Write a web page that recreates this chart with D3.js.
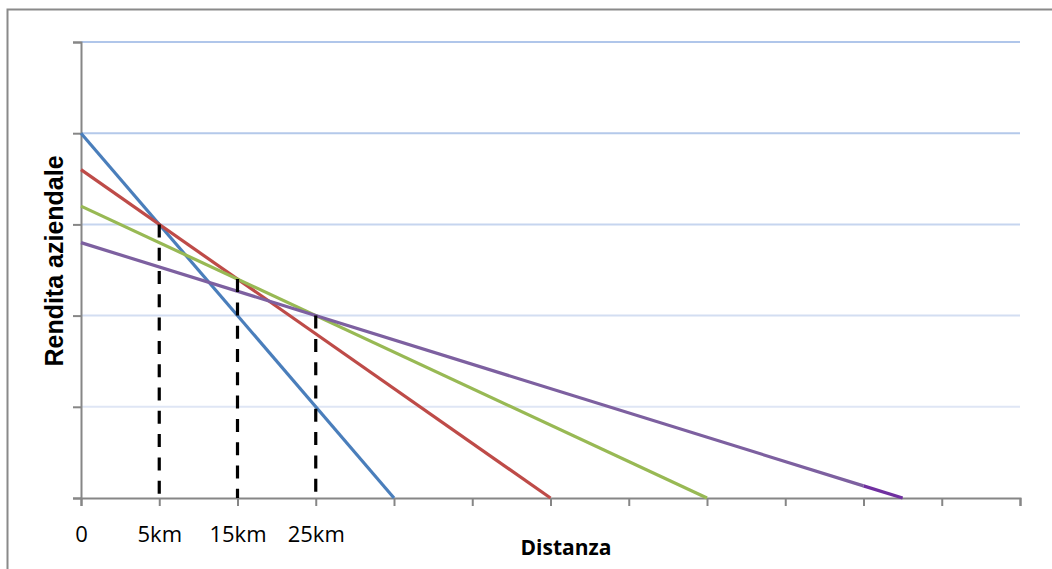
<!DOCTYPE html>
<html>
<head>
<meta charset="utf-8">
<script src="https://cdn.jsdelivr.net/npm/d3@7"></script>
<style>
  html, body { margin: 0; padding: 0; background: #fff; }
  svg { display: block; }
</style>
</head>
<body>
<svg id="chart" width="1052" height="569"></svg>
<script>
// ---- data ----
const xTickValues = [0, 1, 2, 3, 4, 5, 6, 7, 8, 9, 10, 11, 12];
const xTickLabels = ["0", "5km", "15km", "25km"];
const yTickValues = [0, 1, 2, 3, 4, 5];

const blueX = [0, 4];
const blueY = [4, 0];
const redX = [0, 6];
const redY = [3.6, 0];
const greenX = [0, 8];
const greenY = [3.2, 0];
const purpleX = [0, 10, 10.5];
const purpleY = [2.8, 0.133, 0];

const dropX = [1, 2, 3];
const dropY = [3, 2.4, 2.0];

const xTitle = "Distanza";
const yTitle = "Rendita aziendale";

// ---- drawing ----
const svg = d3.select("#chart");
const x = d3.scaleLinear().domain([0, 12]).range([81, 1020]);
const y = d3.scaleLinear().domain([0, 5]).range([498, 42]);

// outer frame
svg.append("rect")
  .attr("x", 7.5).attr("y", 9.5)
  .attr("width", 1100).attr("height", 600)
  .attr("fill", "#fff").attr("stroke", "#8a8a8a").attr("stroke-width", 2);

// gridlines
const gridColors = ["none", "#dfe6f5", "#d3def2", "#c6d5ef", "#b4c9ea", "#b0c6ea"];
svg.append("g").selectAll("line")
  .data(yTickValues.filter(v => v > 0))
  .join("line")
  .attr("x1", x(0)).attr("x2", x(12))
  .attr("y1", d => y(d)).attr("y2", d => y(d))
  .attr("stroke", d => gridColors[d])
  .attr("stroke-width", 2);

// y axis
const yAxis = d3.axisLeft(y).tickValues(yTickValues).tickSize(8).tickFormat("");
const gy = svg.append("g").attr("transform", `translate(${x(0)},0)`).call(yAxis);
gy.select(".domain").attr("stroke", "#868686").attr("stroke-width", 2);
gy.selectAll(".tick line").attr("stroke", "#868686").attr("stroke-width", 2);

// x axis
const xAxis = d3.axisBottom(x).tickValues(xTickValues).tickSize(8)
  .tickFormat((d, i) => xTickLabels[i] || "");
const gx = svg.append("g").attr("transform", `translate(0,${y(0)})`).call(xAxis);
gx.select(".domain").attr("stroke", "#868686").attr("stroke-width", 2);
gx.selectAll(".tick line").attr("stroke", "#868686").attr("stroke-width", 2);
gx.selectAll(".tick text")
  .attr("fill", "#000")
  .attr("font-family", "'Open Sans', sans-serif")
  .attr("font-size", 22)
  .attr("dy", 0).attr("y", 44);

// series
const line = d3.line().x(d => x(d[0])).y(d => y(d[1]));
function drawSeries(xs, ys, color) {
  const pts = xs.map((v, i) => [v, ys[i]]);
  svg.append("path").datum(pts)
    .attr("d", line).attr("fill", "none")
    .attr("stroke", color).attr("stroke-width", 3.2)
    .attr("stroke-linejoin", "round");
}
drawSeries(blueX, blueY, "#4a7ebb");
drawSeries(redX, redY, "#be4b48");
drawSeries(greenX, greenY, "#98b954");
drawSeries(purpleX.slice(0, 2), purpleY.slice(0, 2), "#7d60a0");
drawSeries(purpleX.slice(1), purpleY.slice(1), "#7030a0");

// dashed drop lines
svg.append("g").selectAll("line")
  .data(dropX.map((v, i) => [v, dropY[i]]))
  .join("line")
  .attr("x1", d => x(d[0])).attr("x2", d => x(d[0]))
  .attr("y1", d => y(d[1])).attr("y2", y(0))
  .attr("stroke", "#000").attr("stroke-width", 3.2)
  .attr("stroke-dasharray", "13,10.3");

// axis titles
svg.append("text")
  .attr("x", 566).attr("y", 555)
  .attr("text-anchor", "middle")
  .attr("font-family", "'Open Sans', sans-serif")
  .attr("font-weight", "bold")
  .attr("font-size", 21)
  .text(xTitle);

svg.append("text")
  .attr("transform", "translate(63,261) rotate(-90)")
  .attr("text-anchor", "middle")
  .attr("font-family", "'Liberation Sans', Arial, sans-serif")
  .attr("font-weight", "bold")
  .attr("font-size", 25)
  .text(yTitle);
</script>
</body>
</html>
